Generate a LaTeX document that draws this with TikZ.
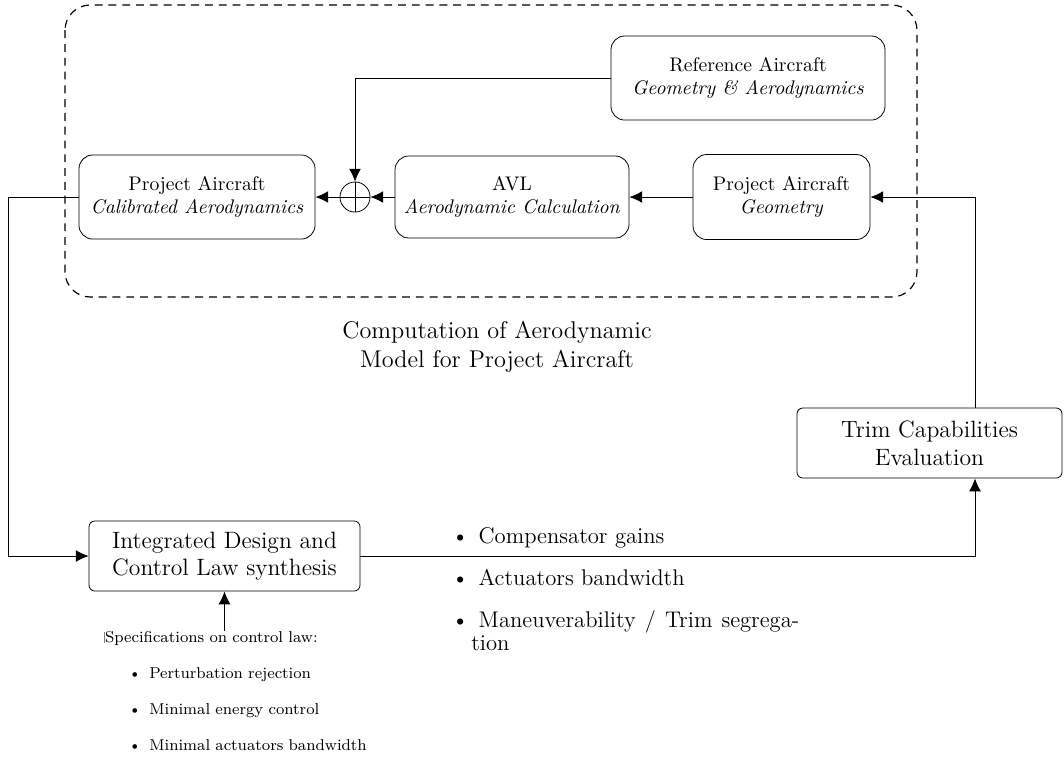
\documentclass[tikz,border=0pt]{standalone}
\usepackage{amsmath}
\usepackage{tikz}
\usetikzlibrary{arrows.meta}

\begin{document}
\begin{tikzpicture}[>={Latex[length=6.5pt,width=6pt]},
		blk/.style={draw, rounded corners=7pt, align=center, inner sep=0pt},
		bigblk/.style={draw, rounded corners=3pt, align=center, inner sep=0pt, font=\large, minimum height=1.25cm}]
		\useasboundingbox (0,0) rectangle (18.983,-13.524);
		\draw[line width=0.6pt, dash pattern=on 4pt off 3pt, rounded corners=0.45cm] (1.16,-0.089) rectangle (16.36,-5.299);
		\node[blk, minimum width=4.889cm, minimum height=1.5cm] (ref) at (13.345,-1.392) {Reference Aircraft\\\textit{Geometry \& Aerodynamics}};
		\node[blk, minimum width=4.211cm, minimum height=1.5cm] (projcal) at (3.515,-3.515) {Project Aircraft\\\textit{Calibrated Aerodynamics}};
		\node[draw, circle, minimum size=0.536cm, inner sep=0pt] (sum) at (6.334,-3.515) {};
		\draw (sum.north) -- (sum.south) (sum.west) -- (sum.east);
		\node[blk, minimum width=4.175cm, minimum height=1.463cm] (avl) at (9.135,-3.515) {AVL\\\textit{Aerodynamic Calculation}};
		\node[blk, minimum width=3.158cm, minimum height=1.517cm] (geom) at (13.943,-3.515) {Project Aircraft\\\textit{Geometry}};
		\node[font=\fontsize{12.3}{14.7}\selectfont, align=center] (cap) at (8.867,-6.19) {Computation of Aerodynamic\\Model for Project Aircraft};
		\node[bigblk, minimum width=4.728cm] (trim) at (16.583,-7.904) {Trim Capabilities\\Evaluation};
		\node[bigblk, minimum width=4.835cm] (integ) at (4.005,-9.920) {Integrated Design and\\Control Law synthesis};
		\coordinate (lft) at (0.143,0);
		\coordinate (rgt) at (17.395,0);
		% outputs of the synthesis
		\node[inner sep=0pt, text width=176.5pt, align=justify, anchor=base west, font=\fontsize{11.5}{12}\selectfont] (outs) at (8.05,-9.269) {%
			\begin{list}{\textbullet}{\setlength{\topsep}{0pt}\setlength{\partopsep}{0pt}\setlength{\itemsep}{9.3pt}\setlength{\parsep}{0pt}\setlength{\leftmargin}{10pt}\setlength{\labelsep}{5pt}\setlength{\labelwidth}{5pt}}
				\item Compensator gains
				\item Actuators bandwidth
				\item Maneuverability / Trim segregation
			\end{list}};
		% specifications
		\node[inner sep=0pt, text width=6cm, anchor=base west, font=\footnotesize] (spec) at (1.855,-11.454) {%
			\textcolor{gray}{\rule[-0.2ex]{0.4pt}{1.7ex}}Specifications on control law:
			\begin{list}{\textbullet}{\setlength{\topsep}{8.8pt}\setlength{\itemsep}{8.8pt}\setlength{\parsep}{0pt}\setlength{\leftmargin}{22.8pt}\setlength{\labelsep}{4pt}\setlength{\labelwidth}{10pt}}
				\item Perturbation rejection
				\item Minimal energy control
				\item Minimal actuators bandwidth
			\end{list}};
		% connections
		\draw[->] (ref.west) -| (sum.north);
		\draw[->] (avl.west) -- (sum.east);
		\draw[->] (sum.west) -- (projcal.east);
		\draw[->] (geom.west) -- (avl.east);
		\draw[->] (projcal.west) -- (projcal.west -| lft) |- (integ.west);
		\draw[->] (integ.east) -| (rgt |- trim.south);
		\draw[->] (rgt |- trim.north) |- (geom.east);
		\draw[->] (integ.south |- spec.north) -- (integ.south);
\end{tikzpicture}
\end{document}
